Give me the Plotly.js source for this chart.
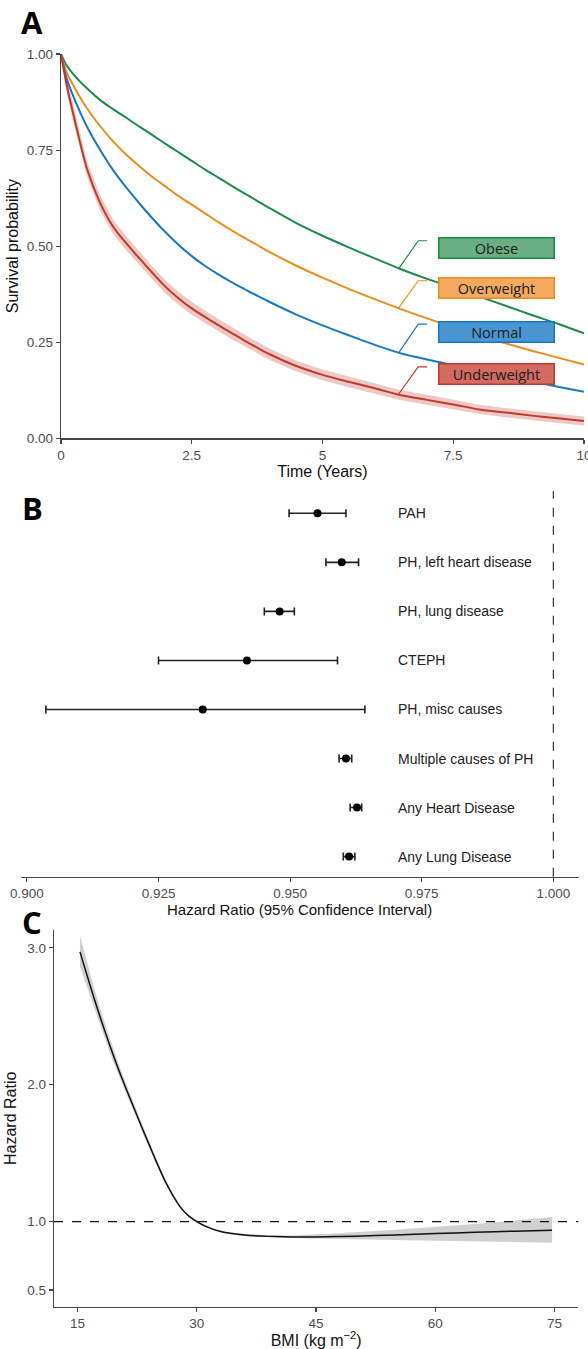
<!DOCTYPE html>
<html><head><meta charset="utf-8">
<script src="https://cdn.plot.ly/plotly-3.0.1.min.js"></script>
<style>html,body{margin:0;padding:0;background:#fff}#chart{width:588px;height:1349px}</style>
</head><body><div id="chart"></div>
<script>
// ---------- Panel A: survival ----------
const timeYears = [0,0.1,0.25,0.5,0.75,1,1.25,1.5,1.75,2,2.25,2.5,2.75,3,3.25,3.5,3.75,4,4.5,5,5.5,6,6.5,7,7.5,8,8.5,9,9.5,10];
const survObese = [1,0.972,0.945,0.91,0.88,0.856,0.834,0.811,0.789,0.766,0.744,0.722,0.7,0.679,0.658,0.638,0.618,0.598,0.56,0.527,0.497,0.468,0.44,0.415,0.392,0.369,0.345,0.321,0.298,0.273];
const survOverweight = [1,0.955,0.915,0.858,0.812,0.772,0.738,0.708,0.68,0.655,0.63,0.608,0.586,0.563,0.542,0.522,0.503,0.484,0.449,0.418,0.389,0.362,0.336,0.312,0.289,0.266,0.247,0.228,0.21,0.192];
const survNormal = [1,0.94,0.885,0.81,0.75,0.697,0.652,0.611,0.572,0.536,0.503,0.474,0.449,0.427,0.407,0.389,0.371,0.354,0.322,0.294,0.268,0.243,0.221,0.205,0.19,0.177,0.162,0.148,0.134,0.121];
const survUnder = [1,0.925,0.835,0.7,0.612,0.55,0.507,0.468,0.43,0.394,0.364,0.338,0.316,0.295,0.275,0.255,0.236,0.218,0.188,0.165,0.147,0.13,0.112,0.1,0.088,0.075,0.067,0.059,0.052,0.045];
const survUnderLo = [1,0.905,0.815,0.68,0.592,0.531,0.489,0.45,0.413,0.377,0.347,0.321,0.3,0.279,0.259,0.24,0.221,0.203,0.174,0.151,0.133,0.117,0.099,0.087,0.075,0.063,0.055,0.047,0.04,0.033];
const survUnderHi = [1,0.945,0.855,0.72,0.632,0.569,0.525,0.486,0.447,0.411,0.381,0.355,0.332,0.311,0.291,0.27,0.251,0.233,0.202,0.179,0.161,0.143,0.125,0.113,0.101,0.087,0.079,0.071,0.064,0.057];
const groupNames = ["Obese","Overweight","Normal","Underweight"];
const groupColors = ["#1b8a4b","#ee8b1c","#1677c6","#c23a2c"];
const groupFills = ["#6aae84","#f2aa5e","#4996d3","#d36b63"];
// label box centre (time, survival) and leader line anchors (time, survival)
const labelCentre = [[8.32,0.496],[8.32,0.39],[8.32,0.277],[8.32,0.168]];
const leaderStart = [[6.45,0.44],[6.45,0.338],[6.45,0.221],[6.45,0.114]];
const leaderKnee = [[6.83,0.514],[6.83,0.41],[6.83,0.297],[6.83,0.186]];
const leaderEndTime = 7.0;
const survTickVals = [0,2.5,5,7.5,10];
const survTickText = ["0","2.5","5","7.5","10"];

// ---------- Panel B: forest ----------
const forestLabels = ["PAH","PH, left heart disease","PH, lung disease","CTEPH","PH, misc causes","Multiple causes of PH","Any Heart Disease","Any Lung Disease"];
const forestHR = [0.9552,0.9598,0.9480,0.9418,0.9334,0.9606,0.9627,0.9612];
const forestLo = [0.9498,0.9568,0.9451,0.9250,0.9036,0.9593,0.9614,0.9601];
const forestHi = [0.9606,0.9630,0.9508,0.9590,0.9642,0.9617,0.9636,0.9623];
const forestLabelX = 0.9701;

// ---------- Panel C: spline ----------
const bmiVals = [15.3,16,17,18,19,20,21,22,23,24,25,26,27,28,29,30,31,32,33,34,36,38,40,42,45,50,55,60,65,70,74.7];
const hrVals = [2.97,2.835,2.645,2.465,2.295,2.135,1.985,1.842,1.70,1.562,1.425,1.297,1.19,1.1,1.04,1.0,0.968,0.945,0.928,0.916,0.902,0.894,0.89,0.888,0.888,0.893,0.902,0.912,0.921,0.93,0.937];
const hrLo = [2.86,2.745,2.575,2.405,2.245,2.093,1.948,1.81,1.672,1.538,1.405,1.281,1.178,1.09,1.032,0.993,0.961,0.938,0.921,0.909,0.895,0.887,0.883,0.879,0.874,0.87,0.866,0.861,0.857,0.851,0.845];
const hrHi = [3.09,2.935,2.72,2.525,2.345,2.177,2.022,1.874,1.728,1.586,1.445,1.313,1.202,1.11,1.048,1.007,0.975,0.952,0.935,0.923,0.909,0.901,0.898,0.898,0.905,0.922,0.94,0.96,0.982,1.008,1.034];
const bmiTicks = [15,30,45,60,75];
const hrTickVals = [0.5,1,2,3];
const hrTickText = ["0.5","1.0","2.0","3.0"];

const FONT = "Liberation Sans";
const TICKC = "#4d4d4d";
const AXC = "#444";

const traces = [];
// Panel A
traces.push({x: timeYears, y: survUnderLo, xaxis:'x', yaxis:'y', mode:'lines', line:{width:0}, hoverinfo:'skip', showlegend:false});
traces.push({x: timeYears, y: survUnderHi, xaxis:'x', yaxis:'y', mode:'lines', line:{width:0}, fill:'tonexty', fillcolor:'rgba(194,58,44,0.28)', hoverinfo:'skip', showlegend:false});
const survSeries = [survObese, survOverweight, survNormal, survUnder];
survSeries.forEach((s,i)=>{
  traces.push({x: timeYears, y: s, xaxis:'x', yaxis:'y', mode:'lines', name: groupNames[i], line:{color: groupColors[i], width:2, shape:'spline', smoothing:0.8}, showlegend:false});
});
groupNames.forEach((g,i)=>{
  traces.push({x:[leaderStart[i][0], leaderKnee[i][0], leaderEndTime], y:[leaderStart[i][1], leaderKnee[i][1], leaderKnee[i][1]], xaxis:'x', yaxis:'y', mode:'lines', line:{color: groupColors[i], width:1.2}, hoverinfo:'skip', showlegend:false});
});
// Panel B
traces.push({
  x: forestHR, y: forestLabels.map((_,i)=>i+1), xaxis:'x2', yaxis:'y2', mode:'markers',
  marker:{color:'#000', size:8},
  error_x:{type:'data', symmetric:false, array: forestHi.map((h,i)=>h-forestHR[i]), arrayminus: forestLo.map((l,i)=>forestHR[i]-l), color:'#222', thickness:1.6, width:4},
  showlegend:false
});
// Panel C
traces.push({x: bmiVals, y: hrLo, xaxis:'x3', yaxis:'y3', mode:'lines', line:{width:0}, hoverinfo:'skip', showlegend:false});
traces.push({x: bmiVals, y: hrHi, xaxis:'x3', yaxis:'y3', mode:'lines', line:{width:0}, fill:'tonexty', fillcolor:'rgba(150,150,150,0.45)', hoverinfo:'skip', showlegend:false});
traces.push({x: bmiVals, y: hrVals, xaxis:'x3', yaxis:'y3', mode:'lines', line:{color:'#111', width:1.5, shape:'spline', smoothing:0.6}, showlegend:false});

const H = 1349, W = 588;
const py = p => 1 - p/H;
const px = p => p/W;

const axBase = {showgrid:false, zeroline:false, showline:true, linecolor:AXC, linewidth:1.2, ticks:'outside', ticklen:4, tickcolor:AXC, tickwidth:1.1, ticklabeloverflow:'allow', tickfont:{family:FONT, size:13.5, color:TICKC}};
const titleFont = {family:FONT, size:16, color:'#111'};

const annotations = [];
[["A",22],["B",508],["C",922]].forEach(([t,yy])=>{
  annotations.push({text:'<b>'+t+'</b>', xref:'paper', yref:'paper', x:px(32), y:py(yy), xanchor:'center', yanchor:'middle', showarrow:false, font:{family:'Open Sans', size:31, color:'#000'}});
});
groupNames.forEach((g,i)=>{
  annotations.push({text:g, xref:'x', yref:'y', x:labelCentre[i][0], y:labelCentre[i][1], xanchor:'center', yanchor:'middle', showarrow:false, width:114, height:19, bgcolor:groupFills[i], bordercolor:groupColors[i], borderwidth:1.5, borderpad:0, font:{family:'Open Sans', size:14.5, color:'#1a1a1a'}});
});
forestLabels.forEach((l,i)=>{
  annotations.push({text:l, xref:'x2', yref:'y2', x:forestLabelX, y:i+1, xanchor:'left', yanchor:'middle', showarrow:false, font:{family:FONT, size:14, color:'#222'}});
});

const shapes = [
  {type:'line', xref:'x2', yref:'y2 domain', x0:1, x1:1, y0:0, y1:1, line:{color:'#222', width:1.1, dash:'dash'}},
  {type:'line', xref:'x3 domain', yref:'y3', x0:0, x1:1, y0:1, y1:1, line:{color:'#111', width:1.3, dash:'dash'}}
];

const layout = {
  width:W, height:H, margin:{l:0,r:0,t:0,b:0}, paper_bgcolor:'#fff', plot_bgcolor:'#fff', showlegend:false,
  font:{family:FONT, color:'#111'},
  xaxis: Object.assign({}, axBase, {domain:[px(61), px(584)], anchor:'y', range:[0,10], tickvals:survTickVals, ticktext:survTickText,
    title:{text:'Time (Years)', font:titleFont, standoff:1}}),
  yaxis: Object.assign({}, axBase, {domain:[py(438.3), py(54)], anchor:'x', range:[0,1], tickvals:[0,0.25,0.5,0.75,1], tickformat:'.2f',
    title:{text:'Survival probability', font:titleFont, standoff:4}}),
  xaxis2: Object.assign({}, axBase, {domain:[px(20.6), px(578.6)], anchor:'y2', range:[0.8988,1.0048], tickvals:[0.9,0.925,0.95,0.975,1.0], tickformat:'.3f',
    title:{text:'Hazard Ratio (95% Confidence Interval)', font:{family:FONT, size:15, color:'#111'}, standoff:1}}),
  yaxis2: {domain:[py(876.7), py(491)], anchor:'x2', range:[8.41,0.545], showline:false, showticklabels:false, ticks:'', showgrid:false, zeroline:false},
  xaxis3: Object.assign({}, axBase, {domain:[px(54), px(578.3)], anchor:'y3', range:[12.03,78.0], tickvals:bmiTicks,
    title:{text:'BMI (kg m<sup>−2</sup>)', font:titleFont, standoff:3}}),
  yaxis3: Object.assign({}, axBase, {domain:[py(1306.7), py(930)], anchor:'x3', range:[0.378,3.13], tickvals:hrTickVals, ticktext:hrTickText,
    title:{text:'Hazard Ratio', font:titleFont, standoff:6}}),
  annotations: annotations,
  shapes: shapes
};

Plotly.newPlot('chart', traces, layout, {staticPlot:true, displayModeBar:false});
</script>
</body></html>
